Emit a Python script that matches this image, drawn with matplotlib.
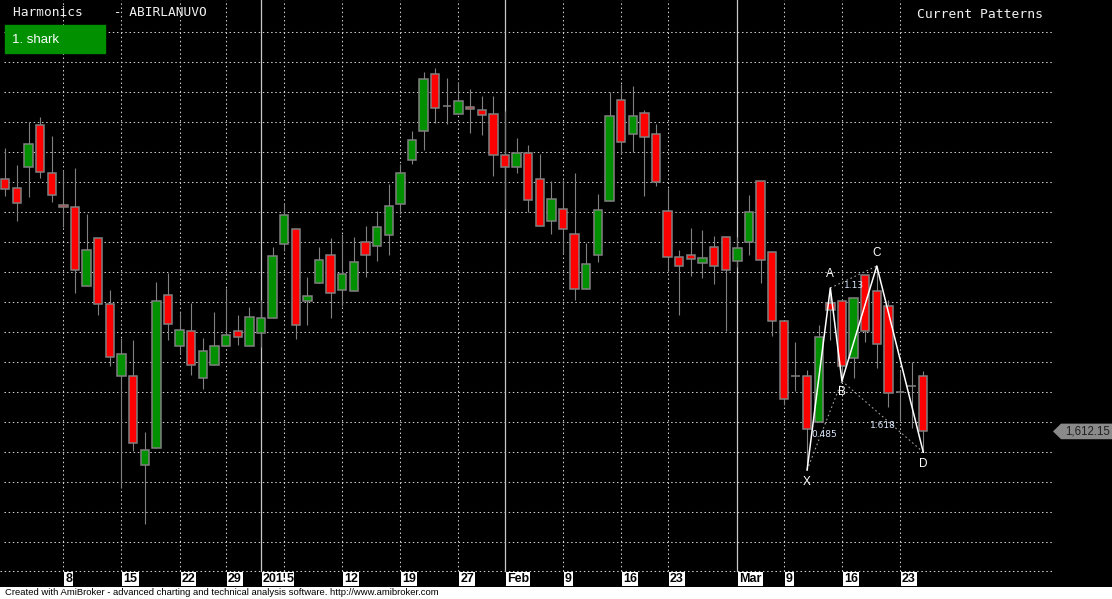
import matplotlib
matplotlib.use("Agg")
import matplotlib.pyplot as plt
from matplotlib.patches import Polygon
import numpy as np

# daily OHLC, ABIRLANUVO, 1 Dec 2014 .. 25 Mar 2015
opens = [1822.3, 1814.8, 1832.3, 1867.3, 1827.3, 1801.1, 1798.9, 1733.1, 1773.1, 1718.1,
         1658.1, 1658.1, 1584.0, 1598.1, 1725.6, 1683.1, 1695.6, 1656.5, 1667.3, 1683.1,
         1695.6, 1683.1, 1694.0, 1706.5, 1768.1, 1780.6, 1720.6, 1735.6, 1759.0, 1729.8,
         1729.0, 1769.8, 1766.5, 1775.6, 1801.5, 1838.1, 1862.3, 1909.8, 1883.1, 1876.5,
         1882.3, 1879.8, 1876.5, 1842.3, 1832.3, 1844.0, 1822.3, 1787.3, 1797.3, 1776.5,
         1730.6, 1759.0, 1804.0, 1888.1, 1859.8, 1877.3, 1859.8, 1795.6, 1757.3, 1759.0,
         1752.3, 1765.6, 1774.0, 1754.0, 1769.8, 1820.6, 1761.5, 1704.0, 1658.1, 1658.1,
         1620.3, 1719.0, 1720.9, 1673.1, 1742.5, 1729.2, 1716.7, 1645.3, 1650.0, 1658.4]
highs = [1848.1, 1834.2, 1869.8, 1874.2, 1858.4, 1830.0, 1831.7, 1793.4, 1773.1, 1730.0,
         1689.8, 1688.4, 1611.7, 1736.7, 1744.2, 1711.7, 1719.2, 1690.0, 1711.7, 1731.7,
         1709.2, 1715.9, 1721.7, 1765.6, 1801.7, 1780.6, 1740.6, 1765.6, 1773.1, 1776.5,
         1774.0, 1783.1, 1795.6, 1818.1, 1834.8, 1862.3, 1911.5, 1914.8, 1906.5, 1903.1,
         1897.3, 1891.7, 1891.7, 1879.2, 1856.5, 1850.9, 1843.4, 1820.6, 1821.5, 1827.3,
         1769.0, 1809.8, 1894.8, 1901.7, 1899.8, 1879.8, 1868.1, 1814.8, 1763.1, 1781.5,
         1779.8, 1774.8, 1774.8, 1774.2, 1809.0, 1820.6, 1761.5, 1704.0, 1686.7, 1663.4,
         1700.9, 1731.7, 1720.9, 1723.1, 1742.5, 1750.0, 1721.7, 1663.4, 1670.3, 1662.8]
lows = [1808.6, 1787.8, 1807.8, 1823.6, 1803.6, 1782.8, 1727.8, 1733.1, 1709.5, 1666.9,
        1564.8, 1596.1, 1534.8, 1598.1, 1688.4, 1677.3, 1659.5, 1647.8, 1667.3, 1683.1,
        1684.0, 1683.1, 1682.8, 1706.5, 1762.8, 1689.5, 1701.1, 1735.6, 1707.0, 1716.5,
        1729.0, 1740.6, 1754.5, 1759.0, 1793.1, 1834.8, 1846.5, 1869.0, 1868.1, 1876.5,
        1860.6, 1859.2, 1825.3, 1797.3, 1827.3, 1794.8, 1783.1, 1777.0, 1759.8, 1722.0,
        1730.6, 1753.6, 1804.0, 1843.4, 1844.8, 1808.1, 1816.5, 1746.5, 1709.0, 1741.5,
        1739.8, 1734.8, 1696.1, 1749.2, 1759.0, 1736.1, 1692.0, 1634.0, 1645.6, 1580.0,
        1620.3, 1688.4, 1654.2, 1656.5, 1687.0, 1665.3, 1632.3, 1621.7, 1615.0, 1594.8]
closes = [1813.9, 1802.3, 1851.4, 1828.1, 1809.0, 1798.9, 1746.4, 1763.1, 1718.1, 1673.9,
          1676.4, 1602.3, 1596.5, 1720.6, 1701.5, 1696.5, 1667.3, 1679.0, 1683.1, 1692.3,
          1690.6, 1707.3, 1706.5, 1758.1, 1792.3, 1700.6, 1724.8, 1754.8, 1727.3, 1743.1,
          1753.1, 1759.0, 1782.3, 1799.8, 1827.3, 1854.8, 1905.6, 1881.5, 1883.1, 1887.3,
          1880.6, 1875.6, 1842.3, 1832.3, 1844.0, 1804.8, 1783.1, 1805.6, 1780.6, 1730.6,
          1751.5, 1796.5, 1874.8, 1853.1, 1874.8, 1857.3, 1819.8, 1757.3, 1749.8, 1755.6,
          1756.5, 1749.8, 1746.5, 1764.8, 1794.8, 1754.8, 1704.0, 1639.0, 1658.1, 1614.0,
          1691.1, 1713.4, 1666.7, 1723.1, 1695.9, 1684.8, 1644.0, 1645.3, 1650.0, 1612.15]

# date axis
tick_idx = [5, 10, 15, 19, 22, 24, 29, 34, 39, 43, 48, 53, 57, 63, 67, 72, 77]
tick_labels = ['8', '15', '22', '29', '2015', '5', '12', '19', '27', 'Feb', '9', '16', '23',
               'Mar', '9', '16', '23']
period_starts = [22, 43, 63]   # year / month boundaries (solid lines)

# shark pattern
pattern_names = ['X', 'A', 'B', 'C', 'D']
pattern_idx = [69, 71, 72, 75, 79]
pattern_ratios = [('0.485', 0, 2), ('1.13', 1, 3), ('1.618', 2, 4)]

W, H = 1112, 599
BAR = 11.62          # px per bar
X0 = 5.3             # px of first bar
PPX = 1 / 1.2        # price per px
TOP = 1971.67        # price at top pixel row


def px_x(x):
    return (x - X0) / BAR


def px_y(y):
    return TOP - y * PPX


fig = plt.figure(figsize=(W / 100, H / 100), dpi=100, facecolor='white')
ax = fig.add_axes([0, 12 / H, 1, 587 / H])
ax.set_facecolor('black')
ax.set_xlim(px_x(0), px_x(W))
ax.set_ylim(px_y(587), px_y(0))
ax.axis('off')
ax.add_patch(plt.Rectangle((0, 0), 1, 1, transform=ax.transAxes, color='black', zorder=0))

grid_kw = dict(color='#d0d0d0', lw=0.75, linestyle=(0, (1.4, 2.6)), zorder=1)
y_axis = px_y(571)
# horizontal grid
for p in np.arange(1520, 1950, 25):
    ax.plot([px_x(4), px_x(1052)], [p, p], **grid_kw)
ax.plot([px_x(0), px_x(1052)], [y_axis, y_axis], **grid_kw)
# vertical grid
for i in tick_idx:
    if i in period_starts:
        ax.plot([i, i], [y_axis, px_y(0)], color='#c8c8c8', lw=0.9, zorder=1)
    else:
        ax.plot([i, i], [y_axis, px_y(0)], **grid_kw)

# candles
n = len(opens)
idx = np.arange(n)
o = np.array(opens)
c = np.array(closes)
ax.vlines(idx, lows, highs, color='#808080', lw=0.8, zorder=2)
cols = np.where(c > o, '#009000', '#ff0000')
ax.bar(idx, np.abs(c - o), bottom=np.minimum(o, c), width=0.72, color=cols,
       edgecolor='#808080', linewidth=1.1, zorder=3)

# harmonic pattern
pvals = []
for k, i in enumerate(pattern_idx):
    pvals.append(lows[i] if k % 2 == 0 else highs[i])
ax.plot(pattern_idx, pvals, color='white', lw=1.1, zorder=5)
for k in range(3):
    ax.plot([pattern_idx[k], pattern_idx[k + 2]], [pvals[k], pvals[k + 2]],
            color='#a0a0a0', lw=0.8, linestyle=(0, (1.5, 2.5)), zorder=4)
offs = [-12, 14, -11, 13, -12]
for name, i, v, off in zip(pattern_names, pattern_idx, pvals, offs):
    ax.annotate(name, (i, v), xytext=(0, off * 0.72), textcoords='offset points',
                ha='center', va='center', color='white', fontsize=8.5,
                family='Liberation Sans', zorder=6)
for lab, a, b in pattern_ratios:
    mx = (pattern_idx[a] + pattern_idx[b]) / 2
    my = (pvals[a] + pvals[b]) / 2
    ax.annotate(lab, (mx, my), xytext=(0, -9 * 0.72), textcoords='offset points',
                ha='center', va='center', color='#dce8ff', fontsize=6.5,
                family='DejaVu Sans', zorder=6)

# date labels (the Jan 5 label sits over the end of "2015", as in AmiBroker)
for k, (i, lab) in enumerate(zip(tick_idx, tick_labels)):
    ax.text(i + 2.0 / BAR, px_y(578.5), lab, ha='left', va='center', fontsize=9,
            fontweight='bold', family='Liberation Sans', color='black',
            bbox=dict(boxstyle='square,pad=0.08', fc='white', ec='none'), zorder=7 + k)

# last price tag
last = closes[-1]
hh = 7.8 * PPX
tag = Polygon([(px_x(1053), last), (px_x(1061), last + hh), (px_x(W), last + hh),
               (px_x(W), last - hh), (px_x(1061), last - hh)],
              closed=True, fc='#8a8a8a', ec='none', zorder=6, clip_on=False)
ax.add_patch(tag)
ax.text(px_x(1110), last, f'{last:,.2f}', ha='right', va='center', fontsize=8.3,
        family='Liberation Sans', color='#202020', zorder=7)

# headers
fig.text(13 / W, 1 - 13 / H, 'Harmonics    - ABIRLANUVO', ha='left', va='center',
         family='DejaVu Sans Mono', fontsize=9.3, color='#f0f0f0')
fig.text(917 / W, 1 - 15 / H, 'Current Patterns', ha='left', va='center',
         family='DejaVu Sans Mono', fontsize=9.4, color='#f0f0f0')
fig.patches.append(plt.Rectangle((5 / W, 1 - 53 / H), 100 / W, 28 / H,
                                 transform=fig.transFigure, color='#009000', zorder=3))
fig.text(12 / W, 1 - 40 / H, '1. shark', ha='left', va='center',
         family='Liberation Sans', fontsize=9.5, color='white', zorder=4)

fig.text(5 / W, 1 - 592.5 / H,
         'Created with AmiBroker - advanced charting and technical analysis software. '
         'http://www.amibroker.com',
         ha='left', va='center', fontsize=6.8, family='Liberation Sans', color='black')

fig.savefig('out.png', dpi=100, facecolor='white')
